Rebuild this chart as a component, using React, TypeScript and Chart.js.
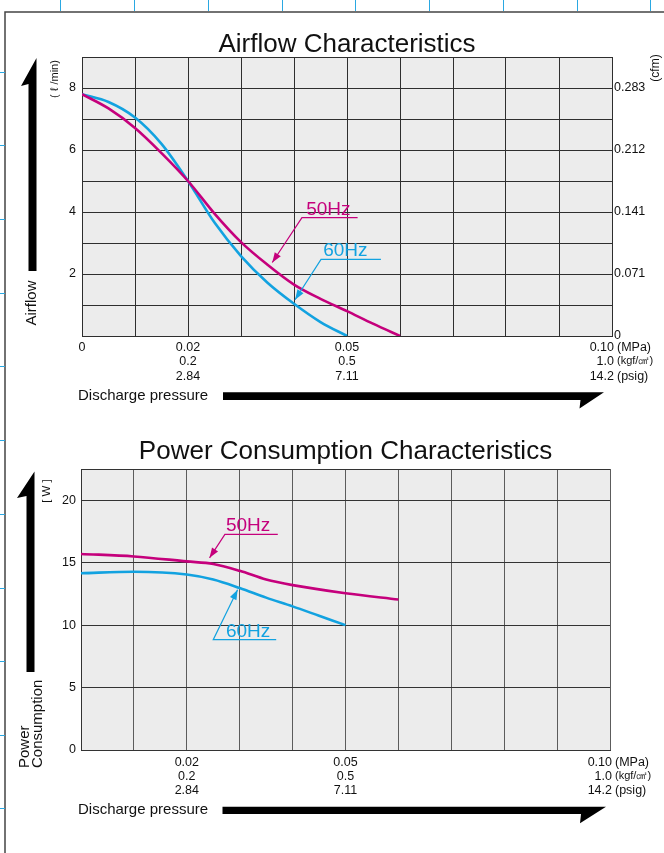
import React, { useEffect, useRef } from 'react';
import { Chart, registerables } from 'chart.js';

Chart.register(...registerables);

const FONT = '"Liberation Sans", Arial, Helvetica, sans-serif';
const MAGENTA = '#c5007c';
const CYAN = '#12a2e0';
const TEXT = '#111111';
const PLOT_BG = '#ececec';

// ---------- Airflow characteristics (x: MPa, y: ℓ/min) ----------
const airflowPressure50 = [0, 0.005, 0.01, 0.015, 0.02, 0.025, 0.03, 0.035, 0.04, 0.045, 0.05, 0.055, 0.06];
const airflow50 = [7.8, 7.34, 6.71, 5.9, 5.0, 3.95, 3.03, 2.3, 1.66, 1.2, 0.8, 0.39, 0];
const airflowPressure60 = [0, 0.005, 0.01, 0.015, 0.02, 0.025, 0.03, 0.035, 0.04, 0.045, 0.05];
const airflow60 = [7.8, 7.55, 7.05, 6.2, 5.0, 3.66, 2.58, 1.72, 1.04, 0.45, 0];
const airflowLeftTicks = [2, 4, 6, 8];
const airflowRightTicks = [0, 2, 4, 6, 8];
const cfmLabels = ['0', '0.071', '0.141', '0.212', '0.283'];

// ---------- Power consumption characteristics (x: MPa, y: W) ----------
const powerPressure50 = [0, 0.01, 0.02, 0.025, 0.03, 0.035, 0.04, 0.05, 0.06];
const power50 = [15.7, 15.5, 15.1, 14.9, 14.35, 13.65, 13.2, 12.55, 12.05];
const powerPressure60 = [0, 0.01, 0.02, 0.025, 0.03, 0.035, 0.04, 0.045, 0.05];
const power60 = [14.15, 14.27, 14.05, 13.65, 12.97, 12.2, 11.5, 10.75, 10.0];
const powerTicks = [0, 5, 10, 15, 20];

// ---------- Shared pressure axis labels ----------
const pressureTicks = [0, 0.02, 0.05, 0.1];
const mpaLabels = ['0', '0.02', '0.05', '0.10'];
const kgfLabels = ['', '0.2', '0.5', '1.0'];
const psigLabels = ['', '2.84', '7.11', '14.2'];
const pressureUnits = ['(MPa)', '(kgf/㎠)', '(psig)'];

type Note = { label: string; color: string; tip: [number, number]; elbow: [number, number]; end: number; textX: number };

const airflowNotes: Note[] = [
  { label: '50Hz', color: MAGENTA, tip: [0.0359, 2.37], elbow: [0.0415, 3.82], end: 0.052, textX: 0.0423 },
  { label: '60Hz', color: CYAN, tip: [0.0402, 1.17], elbow: [0.0451, 2.47], end: 0.0564, textX: 0.0455 },
];
const powerNotes: Note[] = [
  { label: '50Hz', color: MAGENTA, tip: [0.0243, 15.39], elbow: [0.0272, 17.26], end: 0.0372, textX: 0.0274 },
  { label: '60Hz', color: CYAN, tip: [0.0296, 12.84], elbow: [0.025, 8.83], end: 0.0369, textX: 0.0274 },
];

function poly(ctx: CanvasRenderingContext2D, pts: number[][], color: string) {
  ctx.beginPath();
  ctx.moveTo(pts[0][0], pts[0][1]);
  for (let i = 1; i < pts.length; i++) ctx.lineTo(pts[i][0], pts[i][1]);
  ctx.closePath();
  ctx.fillStyle = color;
  ctx.fill();
}

function rotText(ctx: CanvasRenderingContext2D, text: string, x: number, y: number, size: number, align: CanvasTextAlign) {
  ctx.save();
  ctx.translate(x, y);
  ctx.rotate(-Math.PI / 2);
  ctx.font = `${size}px ${FONT}`;
  ctx.fillStyle = TEXT;
  ctx.textAlign = align;
  ctx.textBaseline = 'middle';
  ctx.fillText(text, 0, 0);
  ctx.restore();
}

function arrowHead(ctx: CanvasRenderingContext2D, fx: number, fy: number, tx: number, ty: number, color: string) {
  const ang = Math.atan2(ty - fy, tx - fx);
  const len = 10;
  const half = 3.6;
  const bx = tx - len * Math.cos(ang);
  const by = ty - len * Math.sin(ang);
  poly(ctx, [[tx, ty], [bx + half * Math.sin(ang), by - half * Math.cos(ang)], [bx - half * Math.sin(ang), by + half * Math.cos(ang)]], color);
}

type Decor = {
  title: string;
  titleBaseline: number;
  showZeroX: boolean;
  rowOffsets: number[];
  notes: Note[];
  extra: (ctx: CanvasRenderingContext2D) => void;
};

function makeDecor(d: Decor) {
  return {
    id: 'decor',
    beforeDraw(chart: any) {
      const { ctx, chartArea: a } = chart;
      ctx.save();
      ctx.fillStyle = PLOT_BG;
      ctx.fillRect(a.left, a.top, a.right - a.left, a.bottom - a.top);
      ctx.restore();
    },
    afterDraw(chart: any) {
      const ctx: CanvasRenderingContext2D = chart.ctx;
      const a = chart.chartArea;
      const xs = chart.scales.x;
      const ys = chart.scales.y;
      ctx.save();
      // title
      ctx.fillStyle = TEXT;
      ctx.font = `26px ${FONT}`;
      ctx.textAlign = 'center';
      ctx.textBaseline = 'alphabetic';
      ctx.fillText(d.title, (a.left + a.right) / 2, d.titleBaseline);

      // pressure labels (three unit rows)
      const rows = [mpaLabels, kgfLabels, psigLabels];
      ctx.textBaseline = 'middle';
      pressureTicks.forEach((v, i) => {
        if (i === 0 && !d.showZeroX) return;
        const px = xs.getPixelForValue(v);
        rows.forEach((row, r) => {
          const t = row[i];
          if (!t) return;
          const y = a.bottom + d.rowOffsets[r];
          ctx.fillStyle = TEXT;
          if (i === pressureTicks.length - 1) {
            ctx.font = `12.5px ${FONT}`;
            ctx.textAlign = 'right';
            ctx.fillText(t, px + 2, y);
            ctx.font = `${r === 1 ? 11 : 12.5}px ${FONT}`;
            ctx.textAlign = 'left';
            ctx.fillText(pressureUnits[r], px + 5, r === 1 ? y - 1 : y);
          } else {
            ctx.font = `12.5px ${FONT}`;
            ctx.textAlign = 'center';
            ctx.fillText(t, px, y);
          }
        });
      });

      // "Discharge pressure" caption
      ctx.font = `15px ${FONT}`;
      ctx.textAlign = 'left';
      ctx.fillStyle = TEXT;
      ctx.fillText('Discharge pressure', 78, a.bottom + 60);

      // leader notes
      d.notes.forEach((n) => {
        const tx = xs.getPixelForValue(n.tip[0]);
        const ty = ys.getPixelForValue(n.tip[1]);
        const ex = xs.getPixelForValue(n.elbow[0]);
        const ey = ys.getPixelForValue(n.elbow[1]);
        const endX = xs.getPixelForValue(n.end);
        ctx.strokeStyle = n.color;
        ctx.lineWidth = 1.2;
        ctx.beginPath();
        ctx.moveTo(endX, ey);
        ctx.lineTo(ex, ey);
        ctx.lineTo(tx, ty);
        ctx.stroke();
        arrowHead(ctx, ex, ey, tx, ty, n.color);
        ctx.fillStyle = n.color;
        ctx.font = `19px ${FONT}`;
        ctx.textAlign = 'left';
        ctx.textBaseline = 'alphabetic';
        ctx.fillText(n.label, xs.getPixelForValue(n.textX), ey - 3);
      });

      d.extra(ctx);
      ctx.restore();
    },
  };
}

const GRID_TOP = '#2e2e2e';
const GRID_BOT_X = '#5c5c5c';
const GRID_BOT_Y = '#333333';

function airflowConfig(): any {
  return {
    type: 'line',
    data: {
      datasets: [
        {
          label: '50Hz',
          data: airflowPressure50.map((x, i) => ({ x, y: airflow50[i] })),
          borderColor: MAGENTA,
          borderWidth: 2.6,
          pointRadius: 0,
          cubicInterpolationMode: 'monotone',
          fill: false,
        },
        {
          label: '60Hz',
          data: airflowPressure60.map((x, i) => ({ x, y: airflow60[i] })),
          borderColor: CYAN,
          borderWidth: 2.6,
          pointRadius: 0,
          cubicInterpolationMode: 'monotone',
          fill: false,
        },
      ],
    },
    options: {
      animation: false,
      responsive: false,
      events: [],
      layout: { padding: { top: 57, bottom: 0, left: 0, right: 0 } },
      plugins: { legend: { display: false }, tooltip: { enabled: false }, title: { display: false } },
      scales: {
        x: {
          type: 'linear',
          min: 0,
          max: 0.1,
          ticks: { display: false, stepSize: 0.01 },
          grid: { color: GRID_TOP, lineWidth: 1, drawTicks: false },
          border: { color: GRID_TOP },
          afterFit: (s: any) => { s.height = 853 - 336; },
        },
        y: {
          type: 'linear',
          position: 'left',
          min: 0,
          max: 9,
          ticks: {
            stepSize: 1,
            padding: 6,
            color: TEXT,
            font: { family: FONT, size: 12.5 },
            autoSkip: false,
            callback: (v: any) => (airflowLeftTicks.includes(v) ? String(v) : ''),
          },
          grid: { color: GRID_TOP, lineWidth: 1, drawTicks: false },
          border: { color: GRID_TOP },
          afterFit: (s: any) => { s.width = 82; },
        },
        y2: {
          type: 'linear',
          position: 'right',
          min: 0,
          max: 9,
          ticks: {
            stepSize: 1,
            padding: 2,
            color: TEXT,
            font: { family: FONT, size: 12.5 },
            autoSkip: false,
            callback: (v: any) => {
              const i = airflowRightTicks.indexOf(v);
              return i >= 0 ? cfmLabels[i] : '';
            },
          },
          grid: { display: false, drawTicks: false },
          border: { display: false },
          afterFit: (s: any) => { s.width = 52; },
        },
      },
    },
    plugins: [
      makeDecor({
        title: 'Airflow Characteristics',
        titleBaseline: 52,
        showZeroX: true,
        rowOffsets: [11.5, 26, 40.5],
        notes: airflowNotes,
        extra: (ctx) => {
          // page frame and scan-grid ticks
          ctx.strokeStyle = '#444';
          ctx.lineWidth = 1.5;
          ctx.beginPath();
          ctx.moveTo(664, 12);
          ctx.lineTo(5, 12);
          ctx.lineTo(5, 853);
          ctx.stroke();
          ctx.strokeStyle = '#2aa8e2';
          ctx.lineWidth = 1;
          [60, 134, 208, 282, 355, 429, 503, 577, 650].forEach((x) => {
            ctx.beginPath();
            ctx.moveTo(x + 0.5, 0);
            ctx.lineTo(x + 0.5, 11);
            ctx.stroke();
          });
          [72, 145, 219, 293, 366, 440, 514, 588, 661, 735, 808].forEach((y) => {
            ctx.beginPath();
            ctx.moveTo(0, y + 0.5);
            ctx.lineTo(5, y + 0.5);
            ctx.stroke();
          });
          // vertical arrow
          poly(ctx, [[36.5, 58], [21, 86], [28.5, 84], [28.5, 271], [36.5, 271]], '#000');
          // horizontal arrow
          poly(ctx, [[223, 392.3], [604, 392.3], [579.5, 408.5], [580.5, 400], [223, 400]], '#000');
          rotText(ctx, 'Airflow', 32, 303, 15, 'center');
          rotText(ctx, '( ℓ /min)', 55, 79, 11, 'center');
          rotText(ctx, '(cfm)', 656, 68, 12, 'center');
        },
      }),
    ],
  };
}

function powerConfig(): any {
  return {
    type: 'line',
    data: {
      datasets: [
        {
          label: '50Hz',
          data: powerPressure50.map((x, i) => ({ x, y: power50[i] })),
          borderColor: MAGENTA,
          borderWidth: 2.6,
          pointRadius: 0,
          cubicInterpolationMode: 'monotone',
          fill: false,
        },
        {
          label: '60Hz',
          data: powerPressure60.map((x, i) => ({ x, y: power60[i] })),
          borderColor: CYAN,
          borderWidth: 2.6,
          pointRadius: 0,
          cubicInterpolationMode: 'monotone',
          fill: false,
        },
      ],
    },
    options: {
      animation: false,
      responsive: false,
      events: [],
      layout: { padding: { top: 469, bottom: 0, left: 0, right: 54 } },
      plugins: { legend: { display: false }, tooltip: { enabled: false }, title: { display: false } },
      scales: {
        x: {
          type: 'linear',
          min: 0,
          max: 0.1,
          ticks: { display: false, stepSize: 0.01 },
          grid: { color: GRID_BOT_X, lineWidth: 1, drawTicks: false },
          border: { color: GRID_BOT_Y },
          afterFit: (s: any) => { s.height = 853 - 750; },
        },
        y: {
          type: 'linear',
          position: 'left',
          min: 0,
          max: 22.5,
          ticks: {
            stepSize: 5,
            padding: 5,
            color: TEXT,
            font: { family: FONT, size: 12.5 },
            autoSkip: false,
            callback: (v: any) => (powerTicks.includes(v) ? String(v) : ''),
          },
          grid: { color: GRID_BOT_Y, lineWidth: 1, drawTicks: false },
          border: { color: GRID_BOT_Y },
          afterFit: (s: any) => { s.width = 81; },
        },
      },
    },
    plugins: [
      makeDecor({
        title: 'Power Consumption Characteristics',
        titleBaseline: 459,
        showZeroX: false,
        rowOffsets: [12.5, 27, 41],
        notes: powerNotes,
        extra: (ctx) => {
          poly(ctx, [[34.5, 471.5], [17, 498], [26.5, 496], [26.5, 672], [34.5, 672]], '#000');
          poly(ctx, [[222.5, 806.7], [606, 806.7], [580, 823.3], [581, 814], [222.5, 814]], '#000');
          rotText(ctx, '[ W ]', 47, 491, 11.5, 'center');
          rotText(ctx, 'Power', 25, 768, 15, 'left');
          rotText(ctx, 'Consumption', 38, 768, 15, 'left');
        },
      }),
    ],
  };
}

function ChartCanvas({ make }: { make: () => any }) {
  const ref = useRef<HTMLCanvasElement | null>(null);
  useEffect(() => {
    if (!ref.current) return;
    const chart = new Chart(ref.current, make());
    return () => chart.destroy();
  }, [make]);
  return (
    <canvas
      ref={ref}
      width={664}
      height={853}
      style={{ position: 'absolute', left: 0, top: 0, width: 664, height: 853 }}
    />
  );
}

export default function App() {
  return (
    <div style={{ position: 'absolute', left: 0, top: 0, width: 664, height: 853, background: '#fff', overflow: 'hidden' }}>
      <ChartCanvas make={airflowConfig} />
      <ChartCanvas make={powerConfig} />
    </div>
  );
}
